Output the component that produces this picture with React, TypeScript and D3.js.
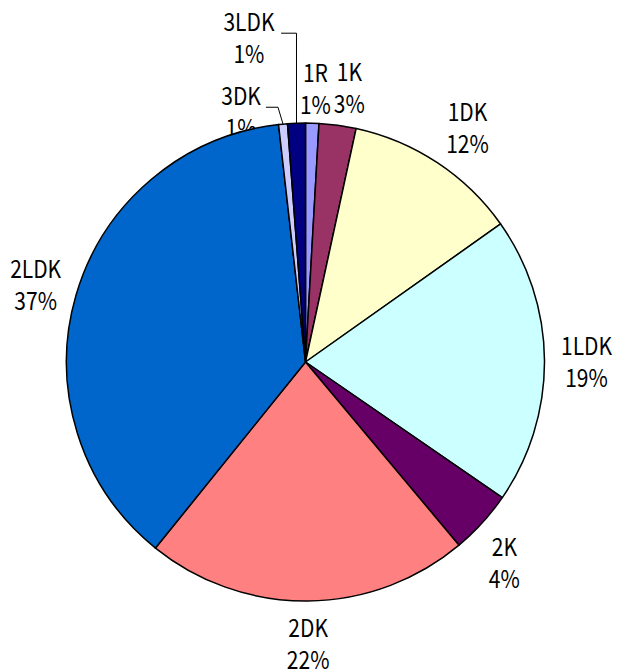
import React from 'react';
import * as d3 from 'd3';

const categories = ['1R', '1K', '1DK', '1LDK', '2K', '2DK', '2LDK', '3DK', '3LDK'];
const shares = [0.9, 2.5, 11.8, 19.4, 4.3, 21.9, 37.4, 0.6, 1.2];
const colors = ['#9999FF', '#993366', '#FFFFCC', '#CCFFFF', '#660066', '#FF8080', '#0066CC', '#CCCCFF', '#000080'];

const width = 617,
  height = 671;
const cx = 305.5,
  cy = 362,
  radius = 239,
  labelRadius = 281;

// hand nudges for labels Excel moved off the plain centroid
const labelNudge = {
  '1R': [2, 6],
  '1K': [6, 3],
  '1DK': [7, -1],
  '2K': [-9, 10],
  '2DK': [0, -1],
  '3DK': [-38, 28],
  '3LDK': [-46, -45]
};
const leadered = ['3DK', '3LDK'];

export default function App() {
  const data = categories.map((c, i) => ({ name: c, value: shares[i], color: colors[i] }));
  const pie = d3
    .pie<any>()
    .sort(null)
    .value(d => d.value);
  const arcs = pie(data);
  const arc = d3
    .arc<any>()
    .innerRadius(0)
    .outerRadius(radius);
  const labelArc = d3
    .arc<any>()
    .innerRadius(labelRadius)
    .outerRadius(labelRadius);
  const edgeArc = d3
    .arc<any>()
    .innerRadius(radius)
    .outerRadius(radius);
  const total = d3.sum(shares);
  const fontSize = 21,
    stretch = 1.18,
    lineGap = 32;
  const textStyle = { fontFamily: '"Noto Sans CJK JP", sans-serif', fontSize: fontSize, fill: '#000' };

  const label = (x, y, s) => (
    <text transform={`translate(${x},${y}) scale(1,${stretch})`} textAnchor="middle" dominantBaseline="central" style={textStyle}>
      {s}
    </text>
  );

  return (
    <svg width={width} height={height} style={{ position: 'absolute', left: 0, top: 0, background: '#fff' }}>
      <g transform={`translate(${cx},${cy})`}>
        {arcs.map((a, i) => {
          const [lx0, ly0] = labelArc.centroid(a);
          const nudge = labelNudge[a.data.name] || [0, 0];
          const lx = lx0 + nudge[0],
            ly = ly0 + nudge[1];
          const pct = Math.round((a.data.value / total) * 100) + '%';
          let leader = null;
          if (leadered.includes(a.data.name)) {
            const [ex, ey] = edgeArc.centroid(a);
            const textRight = lx + a.data.name.length * 7.3 + 3;
            const lineY = ly - 3;
            const knee = a.data.name === '3DK' ? ex - 5 : ex;
            leader = (
              <polyline
                points={`${textRight},${lineY} ${knee},${lineY} ${ex},${ey}`}
                fill="none"
                stroke="#000"
                strokeWidth={1}
              />
            );
          }
          return (
            <g key={'l' + i}>
              {leader}
              {label(lx, ly - lineGap / 2, a.data.name)}
              {label(lx, ly + lineGap / 2, pct)}
            </g>
          );
        })}
        {arcs.map((a, i) => (
          <path key={'s' + i} d={arc(a)} fill={a.data.color} stroke="#000" strokeWidth={1.5} strokeLinejoin="round" />
        ))}
      </g>
    </svg>
  );
}
